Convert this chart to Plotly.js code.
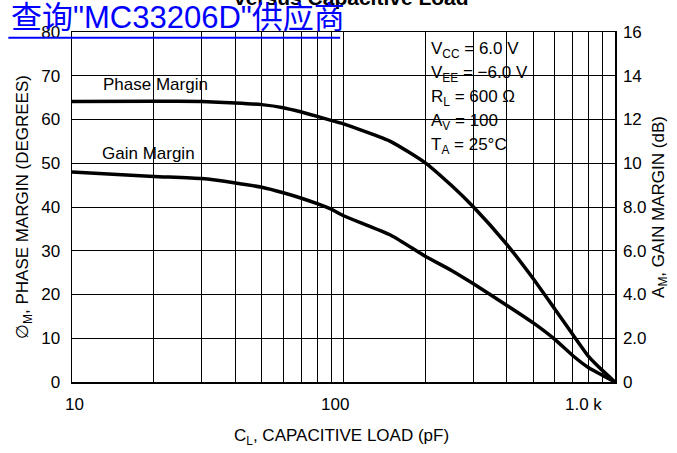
<!DOCTYPE html>
<html>
<head>
<meta charset="utf-8">
<script src="https://cdn.plot.ly/plotly-3.0.1.min.js"></script>
<style>html,body{margin:0;padding:0;background:#fff;}#chart{width:677px;height:453px;}</style>
</head>
<body>
<div id="chart"></div>
<script>
// ---- data ----
const capLoad = [10, 20, 30, 40, 50, 60, 70, 80, 90, 100, 150, 200, 250, 300, 400, 500, 600, 700, 800, 900, 1000];
const phaseMargin = [64.1, 64.2, 64.1, 63.8, 63.4, 62.7, 61.7, 60.7, 59.8, 59.0, 54.9, 50.1, 44.9, 40.1, 31.4, 23.6, 16.7, 10.8, 5.8, 2.6, 0];
const gainMargin = [9.6, 9.4, 9.3, 9.1, 8.9, 8.65, 8.4, 8.15, 7.9, 7.6, 6.7, 5.75, 5.1, 4.5, 3.5, 2.7, 1.95, 1.2, 0.65, 0.3, 0];
const leftTicks = [0, 10, 20, 30, 40, 50, 60, 70, 80];
const rightTicks = [0, 2, 4, 6, 8, 10, 12, 14, 16];
const rightTickText = ['0', '2.0', '4.0', '6.0', '8.0', '10', '12', '14', '16'];
const gridX = [20, 30, 40, 50, 60, 70, 80, 90, 100, 200, 300, 400, 500, 600, 700, 800, 900];
const xTickVals = [10, 100, 1000];
const xTickText = ['10', '100', '1.0 k'];
const conditions = ['V<sub>CC</sub> = 6.0 V', 'V<sub>EE</sub> = \u22126.0 V', 'R<sub>L</sub> = 600 \u03A9', 'A<sub>V</sub> = 100', 'T<sub>A</sub> = 25\u00B0C'];

const FONT = 'Liberation Sans, Arial, sans-serif';
const W = 677, H = 453;
const L = 71.7, R = 62, T = 32.3, B = 70.7;
const PW = W - L - R, PH = H - T - B;
const px = x => (x - L) / PW;
const py = y => (H - B - y) / PH;

const traces = [
  {x: capLoad, y: phaseMargin, type: 'scatter', mode: 'lines', line: {color: '#000', width: 3.5, shape: 'spline', smoothing: 0.5}, xaxis: 'x', yaxis: 'y', hoverinfo: 'skip'},
  {x: capLoad, y: gainMargin, type: 'scatter', mode: 'lines', line: {color: '#000', width: 3.5, shape: 'spline', smoothing: 0.5}, xaxis: 'x', yaxis: 'y2', hoverinfo: 'skip'}
];

const annotations = [];
// x tick labels (shifted as in reference)
const xShift = [2, -9, -32];
xTickVals.forEach((v, i) => annotations.push({
  x: Math.log10(v), xref: 'x', y: 0, yref: 'paper', yanchor: 'top', xanchor: 'center', yshift: -11, xshift: xShift[i],
  text: xTickText[i], showarrow: false, font: {family: FONT, size: 17, color: '#000'}
}));
// condition box lines
conditions.forEach((t, i) => annotations.push({
  x: px(429), xref: 'paper', y: py([50, 74, 98, 122, 146][i]), yref: 'paper', xanchor: 'left', yanchor: 'middle',
  text: t, showarrow: false, font: {family: FONT, size: 17, color: '#000'}
}));
annotations.push({x: px(155.5), xref: 'paper', y: py(85), yref: 'paper', xanchor: 'center', yanchor: 'middle', text: 'Phase Margin', showarrow: false, font: {family: FONT, size: 17, color: '#000'}});
annotations.push({x: px(148.5), xref: 'paper', y: py(154), yref: 'paper', xanchor: 'center', yanchor: 'middle', text: 'Gain Margin', showarrow: false, font: {family: FONT, size: 17, color: '#000'}});
// x axis title
annotations.push({x: 0.5, xref: 'paper', y: py(437), yref: 'paper', xanchor: 'center', yanchor: 'middle', xshift: -2, text: 'C<sub>L</sub>, CAPACITIVE LOAD (pF)', showarrow: false, font: {family: FONT, size: 17, color: '#000'}});
// clipped title
annotations.push({x: px(351), xref: 'paper', y: py(11), yref: 'paper', xanchor: 'center', yanchor: 'bottom', text: '<b>versus Capacitive Load</b>', showarrow: false, font: {family: FONT, size: 21, color: '#000'}});
// blue link text
annotations.push({x: px(9), xref: 'paper', y: py(18), yref: 'paper', xanchor: 'left', yanchor: 'middle', text: '查询"MC33206D"供应商', showarrow: false, font: {family: 'Liberation Sans, Noto Sans CJK SC, sans-serif', size: 31, color: '#0000ff'}});

const shapes = [
  {type: 'rect', xref: 'paper', yref: 'paper', x0: px(415), x1: px(557), y0: py(165), y1: py(37), fillcolor: '#fff', line: {width: 0}, layer: 'between'},
  {type: 'rect', xref: 'paper', yref: 'paper', x0: px(93), x1: px(218), y0: py(98), y1: py(67), fillcolor: '#fff', line: {width: 0}, layer: 'between'},
  {type: 'rect', xref: 'paper', yref: 'paper', x0: px(92), x1: px(205), y0: py(167), y1: py(138), fillcolor: '#fff', line: {width: 0}, layer: 'between'},
  {type: 'line', xref: 'paper', yref: 'paper', x0: px(8), x1: px(340), y0: py(38), y1: py(38), line: {color: '#0000ff', width: 2}}
];

const layout = {
  width: W, height: H,
  margin: {l: L, r: R, t: T, b: B, pad: 0},
  paper_bgcolor: '#fff', plot_bgcolor: '#fff',
  showlegend: false,
  font: {family: FONT, size: 17, color: '#000'},
  xaxis: {
    type: 'log', range: [1, 3], tickvals: xTickVals, ticktext: ['', '', ''],
    showgrid: true, gridcolor: '#000', gridwidth: 1,
    minor: {tickmode: 'array', tickvals: gridX, showgrid: true, gridcolor: '#000', gridwidth: 1, ticks: ''},
    showline: true, linecolor: '#000', linewidth: 1.5, mirror: true, ticks: '', zeroline: false
  },
  yaxis: {
    range: [0, 80], tickvals: leftTicks, showgrid: true, gridcolor: '#000', gridwidth: 1,
    showline: true, linecolor: '#000', linewidth: 1.5, mirror: true, ticks: '', zeroline: false,
    ticklabelstandoff: 7, tickfont: {family: FONT, size: 17},
    title: {text: '\u2205<sub>M</sub>, PHASE MARGIN (DEGREES)', font: {family: FONT, size: 17}, standoff: 8}
  },
  yaxis2: {
    range: [0, 16], tickvals: rightTicks, ticktext: rightTickText, overlaying: 'y', side: 'right',
    showgrid: false, showline: true, linecolor: '#000', linewidth: 1.5, ticks: '', zeroline: false,
    ticklabelstandoff: 3, tickfont: {family: FONT, size: 17},
    title: {text: 'A<sub>M</sub>, GAIN MARGIN (dB)', font: {family: FONT, size: 17}, standoff: 6}
  },
  annotations: annotations,
  shapes: shapes
};

Plotly.newPlot('chart', traces, layout, {staticPlot: true, displayModeBar: false});
</script>
</body>
</html>
